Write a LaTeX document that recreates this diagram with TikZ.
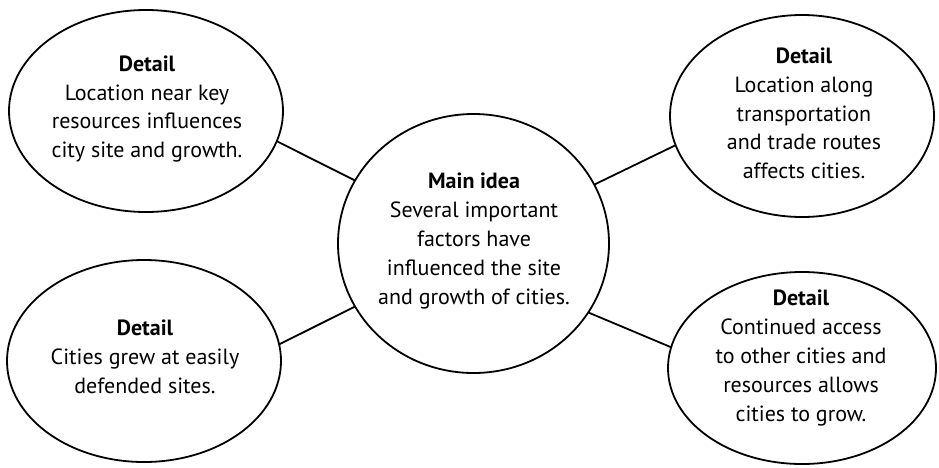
\documentclass[tikz,border=0pt]{standalone}
\usepackage{fontspec}
\setmainfont{PT Sans}
\usetikzlibrary{shapes.geometric}
\begin{document}
\begin{tikzpicture}[x=1pt,y=-1pt,
  bubble/.style={draw, ellipse, line width=1.8pt, inner sep=0pt, outer sep=0pt},
  txt/.style={align=center, font=\fontsize{22}{28.8}\selectfont, inner sep=0pt},
  link/.style={line width=1.8pt}]
\useasboundingbox[fill=white] (0,0) rectangle (939,467);
% bubbles
\node[bubble, minimum width=274pt, minimum height=202pt] (tl) at (146,111) {};
\node[bubble, minimum width=264pt, minimum height=202pt] (tr) at (802,116) {};
\node[bubble, minimum width=274pt, minimum height=202pt] (bl) at (144,361) {};
\node[bubble, minimum width=268pt, minimum height=192pt] (br) at (802,368) {};
\node[bubble, minimum width=271pt, minimum height=259pt] (c) at (473.5,243.5) {};
% texts
\node[txt] (tlt) at (147,109) {\textbf{Detail}\\Location near key\\resources influences\\city site and growth.};
\node[txt] (trt) at (804,113.5) {\textbf{Detail}\\Location along\\transportation\\and trade routes\\affects cities.};
\node[txt] (blt) at (145,357) {\textbf{Detail}\\Cities grew at easily\\defended sites.};
\node[txt] (brt) at (801,358) {\textbf{Detail}\\Continued access\\to other cities and\\resources allows\\cities to grow.};
\node[txt] (ct) at (474,241) {\textbf{Main idea}\\Several important\\factors have\\influenced the site\\and growth of cities.};
% connectors
\draw[link] (tl.-13.2) -- (c.152.8);
\draw[link] (c.26.1) -- (tr.-167.1);
\draw[link] (bl.7.5) -- (c.208.2);
\draw[link] (c.-31.5) -- (br.171);
\end{tikzpicture}
\end{document}
